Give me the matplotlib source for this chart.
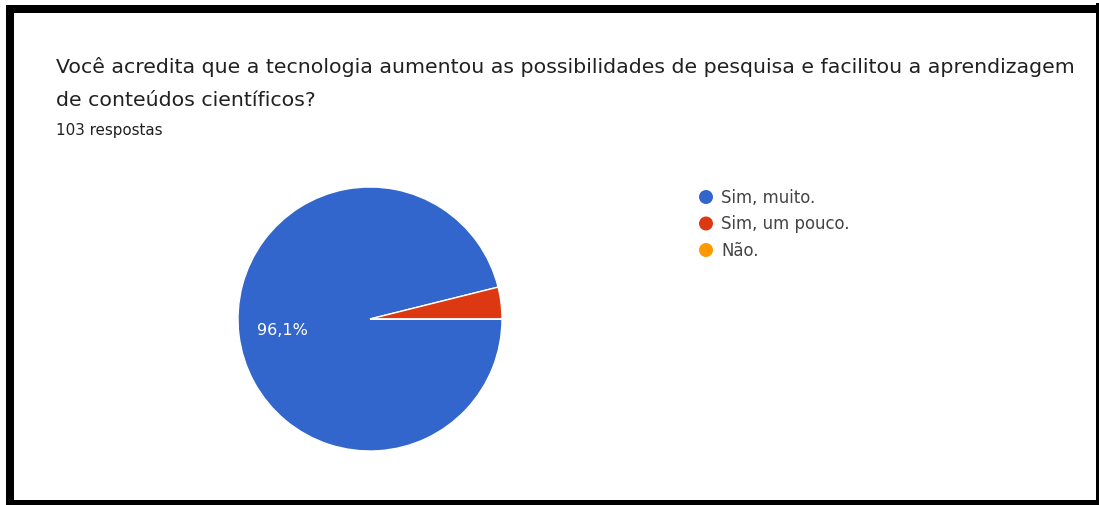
import matplotlib
matplotlib.use("Agg")
import matplotlib.pyplot as plt
from matplotlib.patches import Rectangle, Ellipse

# Survey answers (103 respostas)
categories = ["Sim, muito.", "Sim, um pouco.", "Não."]
counts = [99, 4, 0]
colors = ["#3366CC", "#DC3912", "#FF9900"]
title_lines = [
    "Você acredita que a tecnologia aumentou as possibilidades de pesquisa e facilitou a aprendizagem",
    "de conteúdos científicos?",
]
subtitle = "103 respostas"

W, H = 1099, 506
plt.rcParams["font.family"] = ["DejaVu Sans"]
fig = plt.figure(figsize=(W / 100, H / 100), dpi=100)
fig.patch.set_facecolor("white")


def fx(px):
    return px / W


def fy(py):
    return 1 - py / H


# Black frame around the card
frame = [
    (6, 6, W - 6, 8),      # top
    (6, 6, 8, H - 6),      # left
    (1096, 4, 3, H - 4),   # right
    (6, 501, W - 6, 5),    # bottom
]
for x, y, w, h in frame:
    fig.add_artist(Rectangle((fx(x), fy(y + h)), w / W, h / H,
                             transform=fig.transFigure, color="black", lw=0))

# Header text
fig.text(fx(56), fy(67), title_lines[0], fontsize=14.75, color="#212121", va="center")
fig.text(fx(56), fy(100), title_lines[1], fontsize=14.75, color="#212121", va="center")
fig.text(fx(56), fy(131), subtitle, fontsize=10.9, color="#212121", va="center")

# Pie
cx, cy, r = 370, 320, 132
ax = fig.add_axes([fx(cx - r), fy(cy + r), 2 * r / W, 2 * r / H])
wedges, texts, autotexts = ax.pie(
    counts, colors=colors, startangle=0, counterclock=False, radius=1,
    wedgeprops=dict(edgecolor="white", linewidth=1),
    autopct=lambda p: (f"{p:.1f}%".replace(".", ",") if p > 10 else ""),
    pctdistance=0.67, textprops=dict(color="white", fontsize=11.5),
)
ax.set_xlim(-1, 1)
ax.set_ylim(-1, 1)
ax.set_aspect("equal")
ax.axis("off")

# Legend
lx, ly0, dy = 706, 198, 26.5
for i, (lab, col) in enumerate(zip(categories, colors)):
    y = ly0 + i * dy
    fig.add_artist(Ellipse((fx(lx), fy(y)), 14 / W, 14 / H,
                           transform=fig.transFigure, color=col, lw=0))
    fig.text(fx(721), fy(y), lab, fontsize=11.9, color="#444444", va="center")

fig.savefig("out.png", dpi=100)
